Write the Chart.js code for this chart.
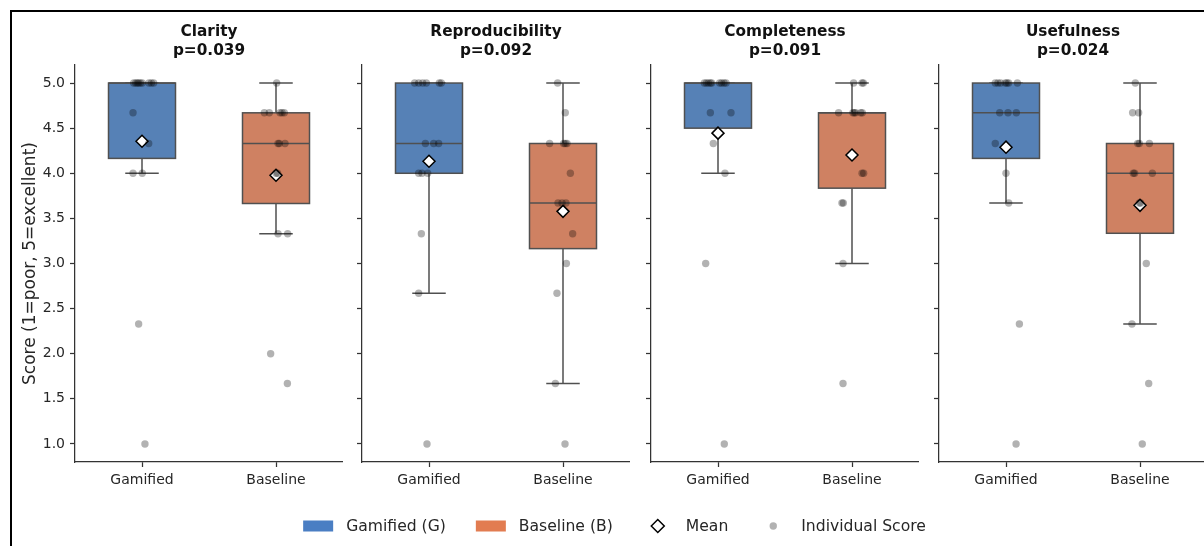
<!DOCTYPE html>
<html>
<head>
<meta charset="utf-8">
<script src="https://cdn.jsdelivr.net/npm/chart.js@4.4.1/dist/chart.umd.min.js"></script>
<style>
  html, body { margin: 0; padding: 0; background: #fff; overflow: hidden; }
  #fig { position: relative; width: 1204px; height: 546px; overflow: hidden; background: #fff; }
  #frame { position: absolute; left: 10px; top: 10px; width: 1400px; height: 700px;
           border-left: 2px solid #000; border-top: 2px solid #000; }
  canvas { position: absolute; }
</style>
</head>
<body>
<div id="fig"><div id="frame"></div></div>
<script>
// ---- data ----------------------------------------------------------------
const CATEGORIES = ['Gamified', 'Baseline'];
const METRICS = ['Clarity', 'Reproducibility', 'Completeness', 'Usefulness'];
const P_VALUES = ['p=0.039', 'p=0.092', 'p=0.091', 'p=0.024'];
const Y_TICKS = [1.0, 1.5, 2.0, 2.5, 3.0, 3.5, 4.0, 4.5, 5.0];
const LEGEND_LABELS = ['Gamified (G)', 'Baseline (B)', 'Mean', 'Individual Score'];

// per-rater scores (15 raters per condition) and their strip offsets
const CLARITY_GAMIFIED = [5, 5, 5, 5, 5, 5, 5, 5, 5, 4.67, 4.33, 4.0, 4.0, 2.33, 1.0];
const CLARITY_GAMIFIED_JITTER = [-0.062, -0.047, -0.035, -0.025, -0.012, 0.002, 0.052, 0.070, 0.087, -0.067, 0.05, -0.067, 0.002, -0.025, 0.022];
const CLARITY_BASELINE = [5.0, 4.67, 4.67, 4.67, 4.67, 4.67, 4.33, 4.33, 4.33, 4.0, 4.0, 3.33, 3.33, 2.0, 1.67];
const CLARITY_BASELINE_JITTER = [0.005, -0.087, -0.05, 0.03, 0.045, 0.062, 0.015, 0.025, 0.067, 0.0, 0.012, 0.015, 0.087, -0.04, 0.085];

const REPRO_GAMIFIED = [5, 5, 5, 5, 5, 5, 4.33, 4.33, 4.33, 4.0, 4.0, 4.0, 3.33, 2.67, 1.0];
const REPRO_GAMIFIED_JITTER = [-0.107, -0.077, -0.047, -0.02, 0.077, 0.092, -0.027, 0.035, 0.072, -0.077, -0.052, -0.01, -0.057, -0.077, -0.015];
const REPRO_BASELINE = [5.0, 4.67, 4.33, 4.33, 4.33, 4.33, 4.0, 3.67, 3.67, 3.67, 3.33, 3.0, 2.67, 1.67, 1.0];
const REPRO_BASELINE_JITTER = [-0.04, 0.017, -0.1, 0.005, 0.017, 0.03, 0.055, -0.037, -0.007, 0.022, 0.072, 0.025, -0.045, -0.057, 0.015];

const COMPLETE_GAMIFIED = [5, 5, 5, 5, 5, 5, 5, 5, 5, 4.67, 4.67, 4.33, 4.0, 3.0, 1.0];
const COMPLETE_GAMIFIED_JITTER = [-0.102, -0.087, -0.072, -0.057, -0.047, 0.012, 0.027, 0.045, 0.06, -0.057, 0.097, -0.035, 0.052, -0.092, 0.047];
const COMPLETE_BASELINE = [5, 5, 5, 4.67, 4.67, 4.67, 4.67, 4.67, 4.67, 4.0, 4.0, 3.67, 3.67, 3.0, 1.67];
const COMPLETE_BASELINE_JITTER = [0.012, 0.075, 0.085, -0.1, 0.007, 0.017, 0.027, 0.065, 0.077, 0.075, 0.087, -0.075, -0.065, -0.067, -0.067];

const USEFUL_GAMIFIED = [5, 5, 5, 5, 5, 5, 5, 4.67, 4.67, 4.67, 4.33, 4.0, 3.67, 2.33, 1.0];
const USEFUL_GAMIFIED_JITTER = [-0.08, -0.06, -0.04, -0.005, 0.007, 0.02, 0.085, -0.047, 0.015, 0.077, -0.08, 0.0, 0.02, 0.1, 0.075];
const USEFUL_BASELINE = [5.0, 4.67, 4.67, 4.33, 4.33, 4.33, 4.0, 4.0, 4.0, 3.67, 3.67, 3.0, 2.33, 1.67, 1.0];
const USEFUL_BASELINE_JITTER = [-0.035, -0.055, -0.01, -0.017, -0.005, 0.07, -0.05, -0.04, 0.092, -0.005, 0.005, 0.047, -0.06, 0.065, 0.017];

// ---- styling -------------------------------------------------------------
const FONT = "'DejaVu Sans', sans-serif";
const TEXT_COLOR = '#262626';
const BOX_FILL = ['#5681b6', '#cf8162'];
const PATCH_FILL = ['#4a7ec3', '#e27c51'];
const LINE_COLOR = '#505050';
const POINT_COLOR = 'rgba(0,0,0,0.3)';
const BOX_WIDTH = 0.5;
const CAP_WIDTH = 0.25;

const PANEL_LEFT = [75, 362, 651, 939];
const PANEL_W = 268;
const PANEL_H = 500;
const X_AXIS_H = 38;

Chart.defaults.font.family = FONT;
Chart.defaults.color = TEXT_COLOR;

const panels = [
  { groups: [CLARITY_GAMIFIED, CLARITY_BASELINE], jitter: [CLARITY_GAMIFIED_JITTER, CLARITY_BASELINE_JITTER] },
  { groups: [REPRO_GAMIFIED, REPRO_BASELINE], jitter: [REPRO_GAMIFIED_JITTER, REPRO_BASELINE_JITTER] },
  { groups: [COMPLETE_GAMIFIED, COMPLETE_BASELINE], jitter: [COMPLETE_GAMIFIED_JITTER, COMPLETE_BASELINE_JITTER] },
  { groups: [USEFUL_GAMIFIED, USEFUL_BASELINE], jitter: [USEFUL_GAMIFIED_JITTER, USEFUL_BASELINE_JITTER] }
];

// ---- box statistics (linear-interpolated quartiles, 1.5 IQR whiskers) ----
function quantile(sorted, q) {
  const pos = (sorted.length - 1) * q;
  const lo = Math.floor(pos), hi = Math.ceil(pos);
  return sorted[lo] + (sorted[hi] - sorted[lo]) * (pos - lo);
}
function boxStats(vals) {
  const s = [...vals].sort((a, b) => a - b);
  const q1 = quantile(s, 0.25), med = quantile(s, 0.5), q3 = quantile(s, 0.75);
  const iqr = q3 - q1;
  const lo = s.find(v => v >= q1 - 1.5 * iqr - 1e-9);
  const hi = [...s].reverse().find(v => v <= q3 + 1.5 * iqr + 1e-9);
  const mean = s.reduce((a, b) => a + b, 0) / s.length;
  return { q1, med, q3, lo, hi, mean };
}

function makeBoxPlugin(groups) {
  return {
    id: 'boxes',
    beforeDatasetsDraw(chart) {
      const { ctx, scales: { x, y } } = chart;
      ctx.save();
      ctx.lineWidth = 1.5;
      ctx.strokeStyle = LINE_COLOR;
      groups.forEach((vals, i) => {
        const st = boxStats(vals);
        const xc = x.getPixelForValue(i);
        const xl = x.getPixelForValue(i - BOX_WIDTH / 2);
        const xr = x.getPixelForValue(i + BOX_WIDTH / 2);
        const cl = x.getPixelForValue(i - CAP_WIDTH / 2);
        const cr = x.getPixelForValue(i + CAP_WIDTH / 2);
        const yq1 = y.getPixelForValue(st.q1), yq3 = y.getPixelForValue(st.q3);
        const ylo = y.getPixelForValue(st.lo), yhi = y.getPixelForValue(st.hi);
        const ymed = y.getPixelForValue(st.med);
        ctx.beginPath();
        ctx.moveTo(xc, yq1); ctx.lineTo(xc, ylo);
        ctx.moveTo(cl, ylo); ctx.lineTo(cr, ylo);
        ctx.moveTo(xc, yq3); ctx.lineTo(xc, yhi);
        ctx.moveTo(cl, yhi); ctx.lineTo(cr, yhi);
        ctx.stroke();
        ctx.fillStyle = BOX_FILL[i];
        ctx.fillRect(xl, yq3, xr - xl, yq1 - yq3);
        ctx.strokeRect(xl, yq3, xr - xl, yq1 - yq3);
        ctx.beginPath();
        ctx.moveTo(xl, ymed); ctx.lineTo(xr, ymed);
        ctx.stroke();
      });
      ctx.restore();
    }
  };
}

function makeCanvas(left, top, w, h) {
  const c = document.createElement('canvas');
  c.width = w; c.height = h;
  c.style.left = left + 'px'; c.style.top = top + 'px';
  c.style.width = w + 'px'; c.style.height = h + 'px';
  document.getElementById('fig').appendChild(c);
  return c;
}

// keep the plot area exactly inside the canvas: no extra label padding
function noPadding(s) {
  s.paddingLeft = 0; s.paddingRight = 0; s.paddingTop = 0; s.paddingBottom = 0;
}

panels.forEach((p, pi) => {
  const yw = pi === 0 ? 75 : 22;
  const canvas = makeCanvas(PANEL_LEFT[pi] - yw, 0, yw + PANEL_W, PANEL_H);
  const points = [];
  p.groups.forEach((vals, gi) => vals.forEach((v, k) => points.push({ x: gi + p.jitter[gi][k], y: v })));
  const means = p.groups.map((vals, gi) => ({ x: gi, y: boxStats(vals).mean }));

  new Chart(canvas, {
    type: 'scatter',
    data: {
      datasets: [
        { label: 'Individual Score', data: points, order: 0,
          pointRadius: 3.7, pointBackgroundColor: POINT_COLOR, pointBorderWidth: 0 },
        { label: 'Mean', data: means, order: 1, pointStyle: 'rectRot',
          pointRadius: 6, pointBackgroundColor: '#ffffff', pointBorderColor: '#000000', pointBorderWidth: 1.5 }
      ]
    },
    options: {
      responsive: false, animation: false, events: [],
      layout: { padding: 0, autoPadding: false },
      plugins: {
        legend: { display: false },
        tooltip: { enabled: false },
        title: {
          display: true, fullSize: false,
          text: [METRICS[pi], P_VALUES[pi]],
          color: '#111111',
          font: { family: FONT, size: 15.3, weight: 'bold', lineHeight: 1.25 },
          padding: { top: 22.5, bottom: 4.25 }
        }
      },
      scales: {
        x: {
          type: 'linear', min: -0.5, max: 1.5,
          afterBuildTicks: s => { s.ticks = CATEGORIES.map((c, i) => ({ value: i })); },
          afterFit: s => { s.height = X_AXIS_H; noPadding(s); },
          ticks: { callback: v => CATEGORIES[v], font: { size: 14 }, color: TEXT_COLOR,
                   padding: 5, autoSkip: false, maxRotation: 0 },
          grid: { drawOnChartArea: false, tickLength: 5, tickColor: '#333', tickWidth: 1.25 },
          border: { color: '#333', width: 1.25 }
        },
        y: {
          min: 0.8, max: 5.2,
          afterBuildTicks: s => { s.ticks = Y_TICKS.map(v => ({ value: v })); },
          afterFit: s => { s.width = yw; noPadding(s); },
          ticks: { callback: v => (pi === 0 ? v.toFixed(1) : ''), font: { size: 14 }, color: TEXT_COLOR,
                   padding: 5, autoSkip: false },
          grid: { drawOnChartArea: false, tickLength: 5, tickColor: '#333', tickWidth: 1.25 },
          border: { color: '#333', width: 1.25 },
          title: pi === 0
            ? { display: true, text: 'Score (1=poor, 5=excellent)', color: TEXT_COLOR,
                font: { size: 17 }, padding: { top: 20.8, bottom: 0 } }
            : { display: false }
        }
      }
    },
    plugins: [makeBoxPlugin(p.groups)]
  });
});

// ---- figure legend --------------------------------------------------------
const legendPlugin = {
  id: 'figureLegend',
  afterDraw(chart) {
    const { ctx } = chart;
    const handle = 30, textPad = 13, colGap = 30, cx = 614.5, cy = 21;
    ctx.save();
    ctx.font = '15.6px ' + FONT;
    const widths = LEGEND_LABELS.map(t => ctx.measureText(t).width);
    const total = widths.reduce((a, w) => a + handle + textPad + w, 0) + colGap * (LEGEND_LABELS.length - 1);
    let x = cx - total / 2;
    LEGEND_LABELS.forEach((label, i) => {
      const hx = x + handle / 2;
      if (i < 2) {
        ctx.fillStyle = PATCH_FILL[i];
        ctx.fillRect(x, cy - 5.5, handle, 11);
      } else if (i === 2) {
        ctx.beginPath();
        ctx.moveTo(hx - 6.5, cy); ctx.lineTo(hx, cy - 6.5); ctx.lineTo(hx + 6.5, cy); ctx.lineTo(hx, cy + 6.5);
        ctx.closePath();
        ctx.fillStyle = '#fff'; ctx.fill();
        ctx.lineWidth = 1.5; ctx.strokeStyle = '#000'; ctx.stroke();
      } else {
        ctx.beginPath();
        ctx.arc(hx, cy, 3.7, 0, Math.PI * 2);
        ctx.fillStyle = POINT_COLOR; ctx.fill();
      }
      ctx.fillStyle = TEXT_COLOR;
      ctx.textBaseline = 'middle';
      ctx.textAlign = 'left';
      ctx.fillText(label, x + handle + textPad, cy + 1);
      x += handle + textPad + widths[i] + colGap;
    });
    ctx.restore();
  }
};

new Chart(makeCanvas(0, 505, 1204, 41), {
  type: 'scatter',
  data: { datasets: [] },
  options: {
    responsive: false, animation: false, events: [],
    layout: { autoPadding: false },
    plugins: { legend: { display: false }, tooltip: { enabled: false } },
    scales: { x: { display: false }, y: { display: false } }
  },
  plugins: [legendPlugin]
});
</script>
</body>
</html>
